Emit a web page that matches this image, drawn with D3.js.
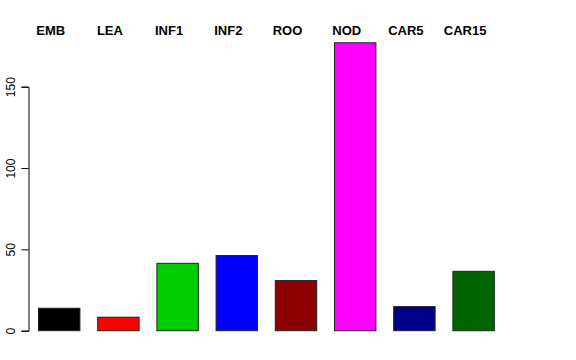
<!DOCTYPE html>
<html>
<head>
<meta charset="utf-8">
<script src="https://cdn.jsdelivr.net/npm/d3@7"></script>
<style>
html,body{margin:0;padding:0;background:#fff;}
svg{display:block;}
</style>
</head>
<body>
<svg id="chart" width="576" height="360"></svg>
<script>
const categories = ["EMB","LEA","INF1","INF2","ROO","NOD","CAR5","CAR15"];
const values = [13.8, 8.3, 41.4, 46.2, 30.8, 177, 14.8, 36.5];
const colors = ["#000000","#FF0000","#00CD00","#0000FF","#8B0000","#FF00FF","#00008B","#006400"];
const yTicks = [0, 50, 100, 150];

const svg = d3.select("#chart");
const x = d3.scaleBand().domain(categories).range([29.6, 503.2]).paddingInner(0.3).paddingOuter(0.15);
const y = d3.scaleLinear().domain([0, 150]).range([330.7, 86.7]);

svg.selectAll("rect.bar").data(categories).enter().append("rect")
  .attr("class","bar")
  .attr("x", d => x(d))
  .attr("width", x.bandwidth())
  .attr("y", (d,i) => y(values[i]))
  .attr("height", (d,i) => y(0) - y(values[i]))
  .attr("fill", (d,i) => colors[i])
  .attr("stroke", "#222")
  .attr("stroke-width", 1);

const yAxis = d3.axisLeft(y).tickValues(yTicks).tickSize(7).tickPadding(4).tickFormat(d3.format("d"));
const g = svg.append("g").attr("transform","translate(28.5,0)").call(yAxis);
g.select(".domain").attr("stroke","#000");
g.selectAll(".tick line").attr("stroke","#000");
g.selectAll(".tick text")
  .attr("font-family","Liberation Sans, Arial, sans-serif")
  .attr("font-size","12px")
  .attr("fill","#000")
  .attr("transform","rotate(-90)")
  .attr("x", 0).attr("y", -13.5)
  .attr("dy", 0)
  .attr("text-anchor","middle");

svg.selectAll("text.cat").data(categories).enter().append("text")
  .attr("class","cat")
  .attr("x", d => x(d) + x.bandwidth()/2 - 8.5)
  .attr("y", 34.5)
  .attr("text-anchor","middle")
  .attr("font-family","Liberation Sans, Arial, sans-serif")
  .attr("font-weight","bold")
  .attr("font-size","13px")
  .attr("fill","#000")
  .text(d => d);
</script>
</body>
</html>
